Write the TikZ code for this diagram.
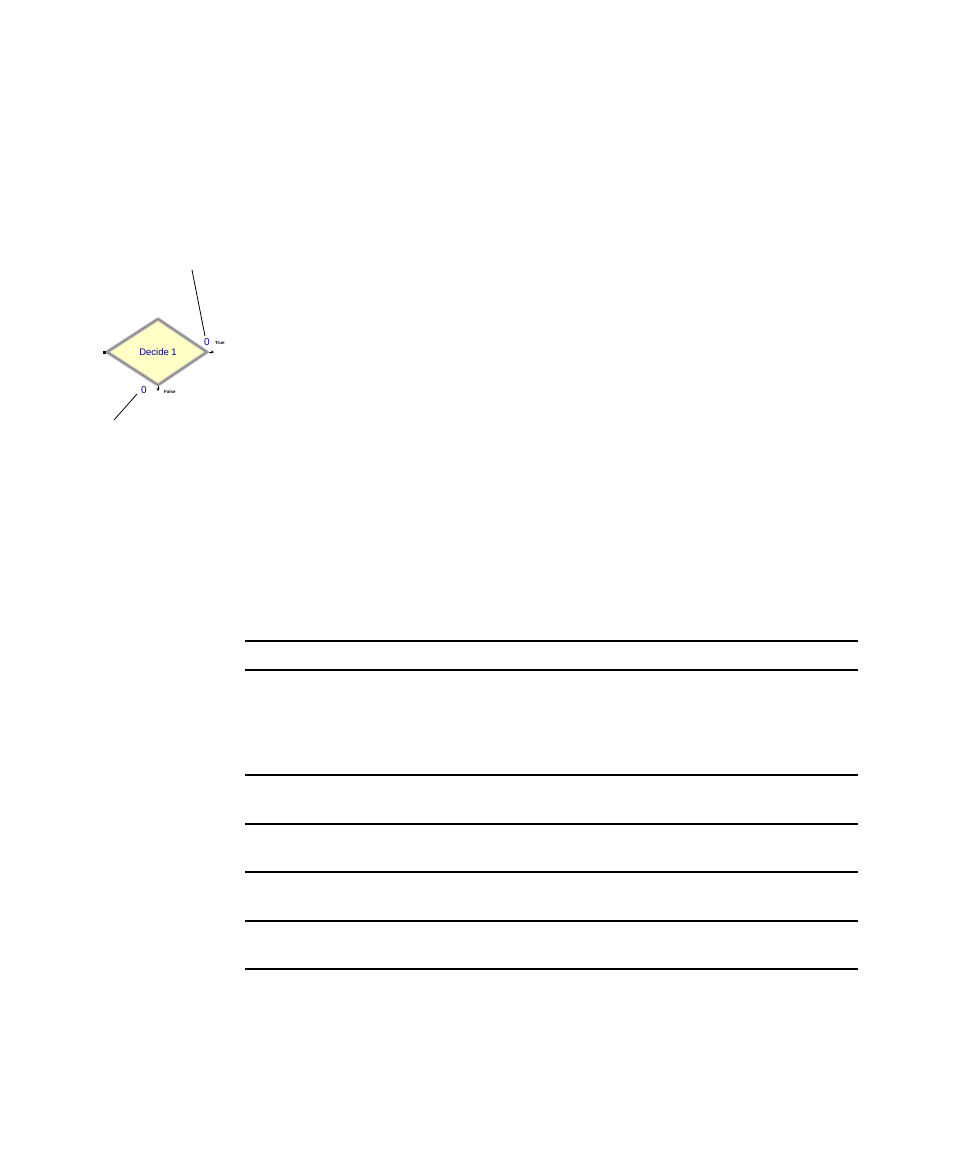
\documentclass[tikz,border=0pt]{standalone}
\usepackage{fontspec}
\setmainfont{Liberation Sans}
\usetikzlibrary{arrows.meta}
\definecolor{dfill}{HTML}{FFFFC6}
\definecolor{dedge}{HTML}{B4B4B4}
\definecolor{dblue}{HTML}{000090}
\tikzset{
  rule/.style={line width=1.1pt, black},
  lead/.style={line width=0.8pt, black},
  port/.style={-{Stealth[length=3pt,width=3pt]}, line width=0.6pt},
  cnt/.style={font=\fontsize{10}{10}\selectfont, text=dblue, inner sep=0pt},
  lbl/.style={font=\fontsize{4.5}{4.5}\selectfont\bfseries, inner sep=0pt},
}
\begin{document}
\begin{tikzpicture}[x=1pt,y=-1pt]
\useasboundingbox (0,0) rectangle (954,1162);
% diamond
\coordinate (L) at (107,352);
\coordinate (T) at (158,319);
\coordinate (R) at (207,352);
\coordinate (B) at (158,385);
\draw[fill=dfill, draw=dedge, line width=3.5pt, line join=round] (L) -- (T) -- (R) -- (B) -- cycle;
\draw[draw=gray!80!black, line width=0.5pt] (L) -- (T) -- (R);
\draw[draw=gray!80!black, line width=0.5pt] (L) -- (B) -- (R);
\node[font=\fontsize{9.5}{9.5}\selectfont, text=dblue] (dec) at (158,352) {Decide 1};
% ports
\fill (103,351) rectangle (106,354);
\coordinate (rp) at (209,352);
\coordinate (rpe) at (214,352);
\draw[port] (rp) -- (rpe);
\coordinate (bp) at (158,386);
\coordinate (bpe) at (158,391);
\draw[port] (bp) -- (bpe);
% counters and labels
\node[cnt] (c1) at (207,342) {0};
\node[lbl, anchor=west] (t1) at (215,343) {True};
\node[cnt] (c2) at (144,390) {0};
\node[lbl, anchor=west] (f1) at (164,392) {False};
% leader lines
\coordinate (a1) at (192,270);
\coordinate (a2) at (205,336);
\draw[lead] (a1) -- (a2);
\coordinate (b1) at (137,394);
\coordinate (b2) at (114,420);
\draw[lead] (b1) -- (b2);
% table rules
\foreach \yy in {641,670,775,824,872,921,969}
  \draw[rule] (245,\yy) -- (858,\yy);
\end{tikzpicture}
\end{document}
